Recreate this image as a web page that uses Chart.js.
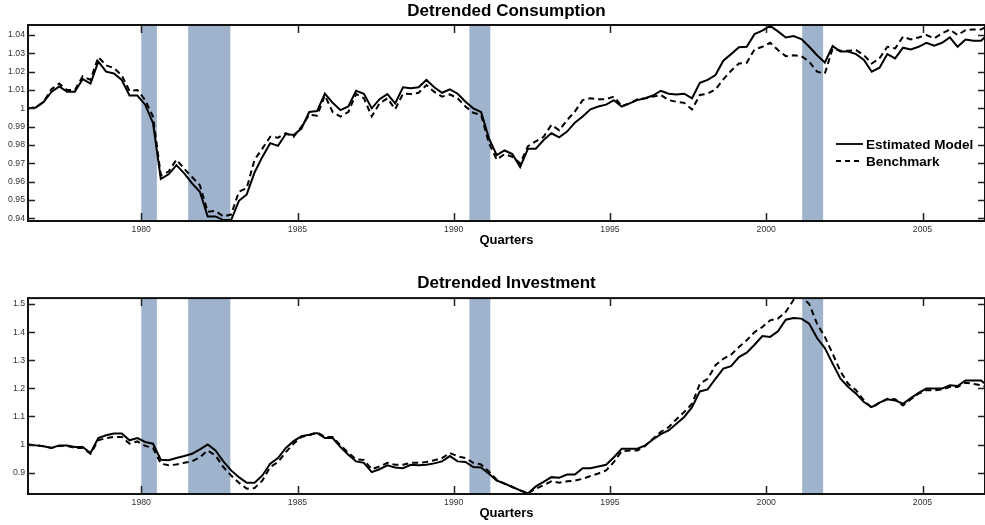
<!DOCTYPE html>
<html>
<head>
<meta charset="utf-8">
<script src="https://cdn.jsdelivr.net/npm/chart.js@4.4.1/dist/chart.umd.min.js"></script>
<style>
  body { margin: 0; background: #fff; }
  #wrap { position: relative; width: 985px; height: 525px; }
  #wrap canvas { position: absolute; left: 0; }
</style>
</head>
<body>
<div id="wrap">
  <canvas id="chartCons" width="985" height="262" style="top:0"></canvas>
  <canvas id="chartInv" width="985" height="263" style="top:262px"></canvas>
</div>
<script>
// Séries trimestrais, 1976Q2 .. 2007Q1 (ponto no meio do trimestre)
const consModel = [
  1.000, 1.0005, 1.0035, 1.009, 1.012, 1.009, 1.009, 1.016, 1.0135, 1.0255,
  1.020, 1.019, 1.0155, 1.007, 1.007, 1.002, 0.992, 0.9615, 0.964, 0.969,
  0.9645, 0.959, 0.9545, 0.941, 0.941, 0.939, 0.939, 0.9495, 0.953, 0.965,
  0.9735, 0.981, 0.9795, 0.986, 0.9855, 0.989, 0.998, 0.9985, 1.008, 1.003,
  0.999, 1.001, 1.0096, 1.008, 1.000, 1.005, 1.0078, 1.0027, 1.0115, 1.011,
  1.0115, 1.0155, 1.0115, 1.0085, 1.0104, 1.008, 1.0036, 1.000, 0.998, 0.9836,
  0.9745, 0.977, 0.975, 0.968, 0.978, 0.978, 0.9827, 0.9864, 0.9842, 0.9873,
  0.9922, 0.9955, 0.9995, 1.001, 1.002, 1.0045, 1.001, 1.0027, 1.0045, 1.0055,
  1.007, 1.0096, 1.008, 1.0076, 1.008, 1.0055, 1.014, 1.0155, 1.0182, 1.026,
  1.0296, 1.0333, 1.0336, 1.0405, 1.0424, 1.045, 1.042, 1.0387, 1.0395, 1.0378,
  1.0336, 1.029, 1.025, 1.034, 1.031, 1.031, 1.0296, 1.0264, 1.020, 1.0222,
  1.0296, 1.0273, 1.0331, 1.0322, 1.0336, 1.0358, 1.0342, 1.0358, 1.0387, 1.0336,
  1.0376, 1.0369, 1.0369, 1.041
];
const consBench = [
  1.000, 1.0005, 1.0035, 1.0105, 1.0135, 1.010, 1.010, 1.0175, 1.0155, 1.028,
  1.0235, 1.022, 1.018, 1.0095, 1.010, 1.0045, 0.9955, 0.9635, 0.9655, 0.972,
  0.967, 0.9625, 0.958, 0.9435, 0.944, 0.941, 0.942, 0.9545, 0.9565, 0.972,
  0.978, 0.9845, 0.984, 0.9865, 0.9845, 0.990, 0.9965, 0.996, 1.007, 0.998,
  0.9955, 0.998, 1.0078, 1.0055, 0.9956, 1.0027, 1.0055, 0.9995, 1.008, 1.0078,
  1.0085, 1.0127, 1.009, 1.0064, 1.0076, 1.0055, 1.001, 0.9976, 0.9964, 0.981,
  0.972, 0.975, 0.9736, 0.970, 0.9794, 0.982, 0.9845, 0.991, 0.988, 0.9936,
  0.9982, 1.0045, 1.0055, 1.005, 1.005, 1.0064, 1.0013, 1.0027, 1.005, 1.0055,
  1.0064, 1.0073, 1.0045, 1.0036, 1.003, 0.9994, 1.0073, 1.008, 1.0104, 1.0158,
  1.0205, 1.0245, 1.0249, 1.0322, 1.0336, 1.0358, 1.0318, 1.0285, 1.029, 1.0285,
  1.0255, 1.020, 1.019, 1.0327, 1.0315, 1.0315, 1.0318, 1.029, 1.0245, 1.0273,
  1.0336, 1.0327, 1.0391, 1.0376, 1.0387, 1.040, 1.0382, 1.041, 1.043, 1.040,
  1.0427, 1.043, 1.043, 1.0455
];
const invModel = [
  1.000, 0.997, 0.9935, 0.988, 0.997, 0.997, 0.991, 0.991, 0.970, 1.023,
  1.033, 1.039, 1.039, 1.015, 1.023, 1.009, 1.003, 0.946, 0.944, 0.952,
  0.959, 0.967, 0.983, 1.000, 0.979, 0.940, 0.908, 0.884, 0.864, 0.864,
  0.890, 0.932, 0.952, 0.988, 1.012, 1.030, 1.035, 1.041, 1.023, 1.023,
  0.991, 0.964, 0.940, 0.935, 0.902, 0.912, 0.926, 0.918, 0.916, 0.928,
  0.926, 0.928, 0.933, 0.940, 0.959, 0.940, 0.938, 0.920, 0.918, 0.896,
  0.872, 0.861, 0.849, 0.837, 0.826, 0.851, 0.867, 0.884, 0.882, 0.893,
  0.893, 0.916, 0.916, 0.922, 0.928, 0.955, 0.985, 0.985, 0.985, 0.997,
  1.018, 1.037, 1.050, 1.074, 1.098, 1.133, 1.189, 1.196, 1.234, 1.270,
  1.279, 1.311, 1.327, 1.355, 1.386, 1.383, 1.403, 1.444, 1.450, 1.448,
  1.430, 1.379, 1.343, 1.288, 1.234, 1.205, 1.181, 1.151, 1.133, 1.149,
  1.161, 1.157, 1.145, 1.165, 1.184, 1.199, 1.199, 1.199, 1.211, 1.208,
  1.228, 1.228, 1.228, 1.205
];
const invBench = [
  1.000, 0.997, 0.994, 0.988, 0.995, 0.995, 0.988, 0.988, 0.967, 1.015,
  1.023, 1.027, 1.027, 1.003, 1.011, 0.995, 0.988, 0.932, 0.926, 0.929,
  0.935, 0.940, 0.955, 0.979, 0.961, 0.920, 0.890, 0.864, 0.843, 0.845,
  0.872, 0.920, 0.938, 0.973, 1.003, 1.027, 1.033, 1.044, 1.027, 1.027,
  0.997, 0.971, 0.947, 0.945, 0.912, 0.922, 0.935, 0.928, 0.928, 0.935,
  0.935, 0.938, 0.944, 0.952, 0.970, 0.958, 0.952, 0.935, 0.929, 0.904,
  0.875, 0.861, 0.849, 0.837, 0.826, 0.843, 0.855, 0.869, 0.864, 0.869,
  0.872, 0.878, 0.888, 0.897, 0.908, 0.938, 0.976, 0.979, 0.979, 0.995,
  1.021, 1.045, 1.062, 1.090, 1.116, 1.145, 1.216, 1.234, 1.282, 1.305,
  1.320, 1.347, 1.371, 1.400, 1.418, 1.442, 1.448, 1.472, 1.515, 1.525,
  1.500, 1.430, 1.383, 1.323, 1.260, 1.216, 1.193, 1.157, 1.130, 1.149,
  1.163, 1.161, 1.139, 1.161, 1.181, 1.193, 1.193, 1.196, 1.205, 1.205,
  1.220, 1.216, 1.211, 1.201
];
const quarters = consModel.map((_, i) => 1976.375 + i * 0.25);

// Faixas de recessão (início, fim) em anos
const recessions = [[1980.0, 1980.5], [1981.5, 1982.85], [1990.5, 1991.17], [2001.15, 2001.82]];

const xTicks = [1980, 1985, 1990, 1995, 2000, 2005];
const yTicksCons = [0.94, 0.95, 0.96, 0.97, 0.98, 0.99, 1, 1.01, 1.02, 1.03, 1.04];
const yTicksInv = [0.9, 1, 1.1, 1.2, 1.3, 1.4, 1.5];

const FONT = '"Liberation Sans", Arial, Helvetica, sans-serif';
const BAND = '#9fb4cc';

const bandsPlugin = {
  id: 'bands',
  beforeDatasetsDraw(chart) {
    const { ctx, chartArea: a, scales: { x } } = chart;
    ctx.save();
    ctx.fillStyle = BAND;
    recessions.forEach(([s, e]) => {
      const x0 = x.getPixelForValue(s), x1 = x.getPixelForValue(e);
      ctx.fillRect(x0, a.top, x1 - x0, a.bottom - a.top);
    });
    ctx.restore();
  }
};

// Moldura + ticks para dentro (estilo MATLAB)
const framePlugin = {
  id: 'frame',
  afterDatasetsDraw(chart) {
    const { ctx, chartArea: a, scales: { x, y } } = chart;
    ctx.save();
    ctx.strokeStyle = '#222';
    ctx.lineWidth = 1.5;
    ctx.beginPath();
    x.ticks.forEach(t => {
      const px = Math.round(x.getPixelForValue(t.value)) + 0.5;
      ctx.moveTo(px, a.bottom); ctx.lineTo(px, a.bottom - 8);
      ctx.moveTo(px, a.top);    ctx.lineTo(px, a.top + 8);
    });
    y.ticks.forEach(t => {
      const py = Math.round(y.getPixelForValue(t.value)) + 0.5;
      ctx.moveTo(a.left, py);  ctx.lineTo(a.left + 7, py);
      ctx.moveTo(a.right, py); ctx.lineTo(a.right - 7, py);
    });
    ctx.stroke();
    ctx.strokeStyle = '#111';
    ctx.lineWidth = 2;
    ctx.strokeRect(a.left, a.top, a.right - a.left, a.bottom - a.top);
    ctx.restore();
  }
};

// Legenda solta dentro do gráfico de consumo
const legendPlugin = {
  id: 'looseLegend',
  afterDraw(chart, args, opts) {
    if (!opts.show) return;
    const { ctx } = chart;
    ctx.save();
    ctx.font = 'bold 13.5px ' + FONT;
    ctx.textBaseline = 'middle';
    ctx.fillStyle = '#000';
    chart.data.datasets.forEach((ds, i) => {
      const yy = 144 + i * 17;
      ctx.strokeStyle = '#000';
      ctx.lineWidth = 1.8;
      ctx.setLineDash(ds.borderDash ? [5, 4] : []);
      ctx.beginPath();
      ctx.moveTo(836, yy); ctx.lineTo(863, yy);
      ctx.stroke();
      ctx.fillText(ds.label, 866, yy + 1);
    });
    ctx.restore();
  }
};

function makeChart(canvasId, { title, model, bench, yMin, yMax, yTicks, titlePad, xHeight, xTitlePad, legend }) {
  return new Chart(document.getElementById(canvasId), {
    type: 'line',
    data: {
      datasets: [
        { label: 'Estimated Model', data: quarters.map((q, i) => ({ x: q, y: model[i] })),
          borderColor: '#000', borderWidth: 2, pointRadius: 0, tension: 0, fill: false },
        { label: 'Benchmark', data: quarters.map((q, i) => ({ x: q, y: bench[i] })),
          borderColor: '#000', borderWidth: 2, borderDash: [6, 4], pointRadius: 0, tension: 0, fill: false },
      ],
    },
    options: {
      responsive: false,
      animation: false,
      layout: { padding: 0 },
      plugins: {
        legend: { display: false },
        tooltip: { enabled: false },
        title: {
          display: true, text: title, fullSize: false, color: '#000',
          font: { family: FONT, size: 17, weight: 'bold' }, padding: titlePad,
        },
        looseLegend: { show: legend },
      },
      scales: {
        x: {
          type: 'linear', min: 1976.375, max: 2007,
          grid: { display: false, drawTicks: false }, border: { display: false },
          afterBuildTicks: s => { s.ticks = xTicks.map(v => ({ value: v })); },
          afterFit: s => { s.height = xHeight; },
          ticks: { color: '#333', padding: 3, maxRotation: 0, font: { family: FONT, size: 8.7 }, callback: v => String(v) },
          title: { display: true, text: 'Quarters', color: '#000', font: { family: FONT, size: 13, weight: 'bold' }, padding: { top: 0, bottom: xTitlePad } },
        },
        y: {
          min: yMin, max: yMax,
          grid: { display: false, drawTicks: false }, border: { display: false },
          afterBuildTicks: s => { s.ticks = yTicks.map(v => ({ value: v })); },
          afterFit: s => { s.width = 28; },
          ticks: { color: '#333', padding: 3, font: { family: FONT, size: 8.7 }, callback: v => String(+v.toFixed(2)) },
        },
      },
    },
    plugins: [bandsPlugin, framePlugin, legendPlugin],
  });
}

makeChart('chartCons', {
  title: 'Detrended Consumption', model: consModel, bench: consBench,
  yMin: 0.9385, yMax: 1.0455, yTicks: yTicksCons,
  titlePad: { top: 1.5, bottom: 3.1 }, xHeight: 41, xTitlePad: 13.9, legend: true,
});
makeChart('chartInv', {
  title: 'Detrended Investment', model: invModel, bench: invBench,
  yMin: 0.824, yMax: 1.521, yTicks: yTicksInv,
  titlePad: { top: 11, bottom: 4.7 }, xHeight: 31, xTitlePad: 4.2, legend: false,
});
</script>
</body>
</html>
